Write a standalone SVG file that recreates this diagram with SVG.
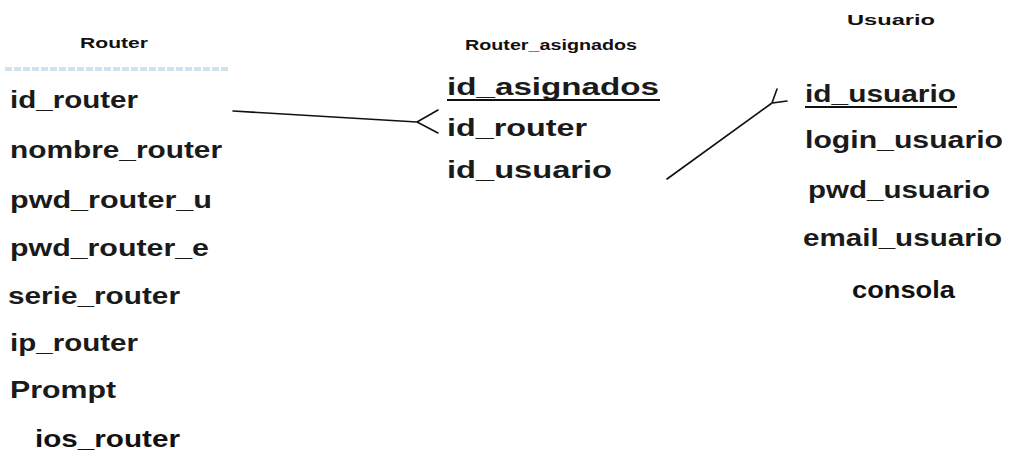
<svg xmlns="http://www.w3.org/2000/svg" width="1009" height="465" viewBox="0 0 1009 465">
  <style>
    .title { font-family: "Liberation Sans", Arial, sans-serif; font-weight: bold; font-size: 15px; fill: #111; }
    .field { font-family: "Liberation Sans", Arial, sans-serif; font-weight: bold; font-size: 23.5px; fill: #1a1a1a; }
    .strong { font-family: "Liberation Sans", Arial, sans-serif; font-weight: bold; font-size: 24px; fill: #111; }
    .conn { stroke: #111; stroke-width: 1.6; fill: none; stroke-linecap: round; }
    .uline { stroke: #111; stroke-width: 2; }
  </style>
  <rect width="1009" height="465" fill="#ffffff"/>

  <!-- Router table -->
  <g id="router">
    <text class="title" x="80" y="48" textLength="68" lengthAdjust="spacingAndGlyphs">Router</text>
    <line x1="5" y1="69" x2="230" y2="69" stroke="#cfe2ee" stroke-width="4" stroke-dasharray="7 2"/>
    <text class="field" x="10" y="108" textLength="128" lengthAdjust="spacingAndGlyphs">id_router</text>
    <text class="field" x="10" y="158" textLength="212" lengthAdjust="spacingAndGlyphs">nombre_router</text>
    <text class="field" x="10" y="208" textLength="202" lengthAdjust="spacingAndGlyphs">pwd_router_u</text>
    <text class="field" x="10" y="256" textLength="199" lengthAdjust="spacingAndGlyphs">pwd_router_e</text>
    <text class="field" x="8" y="304" textLength="172" lengthAdjust="spacingAndGlyphs">serie_router</text>
    <text class="field" x="10" y="351" textLength="128" lengthAdjust="spacingAndGlyphs">ip_router</text>
    <text class="field" x="10" y="398" textLength="106" lengthAdjust="spacingAndGlyphs">Prompt</text>
    <text class="strong" x="35" y="447" textLength="145" lengthAdjust="spacingAndGlyphs">ios_router</text>
  </g>

  <!-- Router_asignados table -->
  <g id="router_asignados">
    <text class="title" x="465" y="50" textLength="172" lengthAdjust="spacingAndGlyphs">Router_asignados</text>
    <text class="field" x="447" y="95" textLength="212" lengthAdjust="spacingAndGlyphs">id_asignados</text>
    <line class="uline" x1="447" y1="100" x2="660" y2="100"/>
    <text class="field" x="447" y="136" textLength="140" lengthAdjust="spacingAndGlyphs">id_router</text>
    <text class="field" x="447" y="178" textLength="165" lengthAdjust="spacingAndGlyphs">id_usuario</text>
  </g>

  <!-- Usuario table -->
  <g id="usuario">
    <text class="title" x="847" y="25" textLength="88" lengthAdjust="spacingAndGlyphs">Usuario</text>
    <text class="field" x="805" y="102" textLength="151" lengthAdjust="spacingAndGlyphs">id_usuario</text>
    <line class="uline" x1="805" y1="107" x2="957" y2="107"/>
    <text class="field" x="805" y="148" textLength="198" lengthAdjust="spacingAndGlyphs">login_usuario</text>
    <text class="field" x="808" y="198" textLength="182" lengthAdjust="spacingAndGlyphs">pwd_usuario</text>
    <text class="field" x="803" y="246" textLength="199" lengthAdjust="spacingAndGlyphs">email_usuario</text>
    <text class="strong" x="852" y="298" textLength="103" lengthAdjust="spacingAndGlyphs">consola</text>
  </g>

  <!-- Relationships (crow's foot on the many side) -->
  <g id="connectors">
    <path class="conn" d="M233 111 L417 122 M438 110 L417 122 L438 133"/>
    <path class="conn" d="M667 179 L772 103 M777 89 L772 103 L787 101"/>
  </g>
</svg>
